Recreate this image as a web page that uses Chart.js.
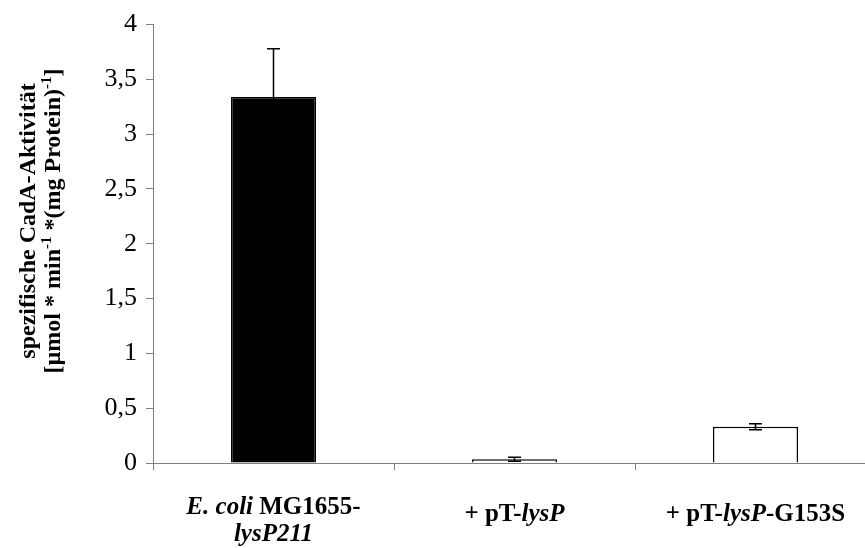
<!DOCTYPE html>
<html>
<head>
<meta charset="utf-8">
<script src="https://cdn.jsdelivr.net/npm/chart.js@4/dist/chart.umd.min.js"></script>
<style>
  html, body { margin: 0; padding: 0; background: #fff; overflow: hidden; }
  #wrap { width: 865px; height: 548px; overflow: hidden; }
</style>
</head>
<body>
<div id="wrap"><canvas id="chart" width="876" height="548"></canvas></div>
<script>
// category labels, _text_ = italic part, one entry per line
const categories = [
    ['_E. coli_ MG1655-', '_lysP211_'],
    ['+ pT-_lysP_'],
    ['+ pT-_lysP_-G153S']
];
const activity = [3.34, 0.034, 0.33];
const activityError = [0.44, 0.018, 0.027];
const yTicks = [0, 0.5, 1, 1.5, 2, 2.5, 3, 3.5, 4];
const yTitle = ['spezifische CadA-Aktivität', '[µmol * min^-1^ *(mg Protein)^-1^]'];

const SERIF = '"Liberation Serif", "Times New Roman", serif';
const AXIS_GREY = '#808080';

// split "a _b_ c" into runs [{text, flag}]
function parseRuns(line, marker) {
    const parts = line.split(marker);
    return parts.map((text, i) => ({ text, flag: i % 2 === 1 })).filter(r => r.text.length);
}

const errorBars = {
    id: 'errorBars',
    afterDatasetsDraw(chart) {
        const ctx = chart.ctx;
        const y = chart.scales.y;
        const meta = chart.getDatasetMeta(0);
        ctx.save();
        ctx.strokeStyle = '#000';
        ctx.lineWidth = 1.5;
        meta.data.forEach((bar, i) => {
            const top = y.getPixelForValue(activity[i] + activityError[i]);
            const bottom = y.getPixelForValue(Math.max(0, activity[i] - activityError[i]));
            ctx.beginPath();
            ctx.moveTo(bar.x, top);
            ctx.lineTo(bar.x, bottom);
            ctx.moveTo(bar.x - 6.5, top);
            ctx.lineTo(bar.x + 6.5, top);
            ctx.moveTo(bar.x - 6.5, bottom);
            ctx.lineTo(bar.x + 6.5, bottom);
            ctx.stroke();
        });
        ctx.restore();
    }
};

// x labels with mixed bold / bold italic runs
const categoryLabels = {
    id: 'categoryLabels',
    afterDraw(chart) {
        const ctx = chart.ctx;
        const meta = chart.getDatasetMeta(0);
        const axisY = chart.chartArea.bottom;
        ctx.save();
        ctx.fillStyle = '#000';
        ctx.textBaseline = 'alphabetic';
        ctx.textAlign = 'left';
        categories.forEach((lines, i) => {
            const cx = meta.data[i].x;
            const baselines = lines.length > 1 ? [51, 78] : [58];
            lines.forEach((line, li) => {
                const runs = parseRuns(line, '_');
                let total = 0;
                runs.forEach(r => {
                    ctx.font = (r.flag ? 'italic ' : '') + 'bold 25px ' + SERIF;
                    r.w = ctx.measureText(r.text).width;
                    total += r.w;
                });
                let x = cx - total / 2;
                runs.forEach(r => {
                    ctx.font = (r.flag ? 'italic ' : '') + 'bold 25px ' + SERIF;
                    ctx.fillText(r.text, x, axisY + baselines[li]);
                    x += r.w;
                });
            });
        });
        ctx.restore();
    }
};

// rotated y title with superscripts
const yAxisTitle = {
    id: 'yAxisTitle',
    afterDraw(chart) {
        const ctx = chart.ctx;
        const centerY = 221;
        const baselineX = [35, 60];
        ctx.save();
        ctx.fillStyle = '#000';
        ctx.textBaseline = 'alphabetic';
        ctx.textAlign = 'left';
        yTitle.forEach((line, li) => {
            const runs = parseRuns(line, '^');
            let total = 0;
            runs.forEach(r => {
                ctx.font = 'bold ' + (r.flag ? 15 : 24) + 'px ' + SERIF;
                r.w = ctx.measureText(r.text).width;
                total += r.w;
            });
            ctx.save();
            ctx.translate(baselineX[li], centerY);
            ctx.rotate(-Math.PI / 2);
            let x = -total / 2;
            runs.forEach(r => {
                ctx.font = 'bold ' + (r.flag ? 15 : 24) + 'px ' + SERIF;
                ctx.fillText(r.text, x, r.flag ? -9 : 0);
                x += r.w;
            });
            ctx.restore();
        });
        ctx.restore();
    }
};

const ctx = document.getElementById('chart').getContext('2d');
new Chart(ctx, {
    type: 'bar',
    data: {
        labels: categories.map(lines => lines.join(' ').replace(/_/g, '')),
        datasets: [{
            data: activity,
            backgroundColor: ['#000000', '#ffffff', '#ffffff'],
            borderColor: '#000000',
            borderWidth: 1.5,
            categoryPercentage: 1,
            barPercentage: 0.353
        }]
    },
    options: {
        responsive: false,
        devicePixelRatio: 1,
        animation: false,
        layout: { padding: { top: 23, left: 0, right: 0, bottom: 0 } },
        plugins: {
            legend: { display: false },
            tooltip: { enabled: false }
        },
        scales: {
            x: {
                grid: {
                    display: true,
                    offset: true,
                    drawOnChartArea: false,
                    drawTicks: true,
                    tickLength: 7,
                    color: AXIS_GREY
                },
                border: { color: AXIS_GREY, width: 1 },
                ticks: { display: false },
                afterFit(scale) { scale.height = 85; }
            },
            y: {
                min: 0,
                max: 4,
                afterBuildTicks(scale) {
                    scale.ticks = yTicks.map(v => ({ value: v }));
                },
                grid: {
                    drawOnChartArea: false,
                    drawTicks: true,
                    tickLength: 7,
                    color: AXIS_GREY
                },
                border: { color: AXIS_GREY, width: 1 },
                ticks: {
                    color: '#000',
                    padding: 9,
                    font: { family: SERIF, size: 26 },
                    callback: v => String(v).replace('.', ',')
                },
                afterFit(scale) { scale.width = 153; }
            }
        }
    },
    plugins: [errorBars, categoryLabels, yAxisTitle]
});
</script>
</body>
</html>
